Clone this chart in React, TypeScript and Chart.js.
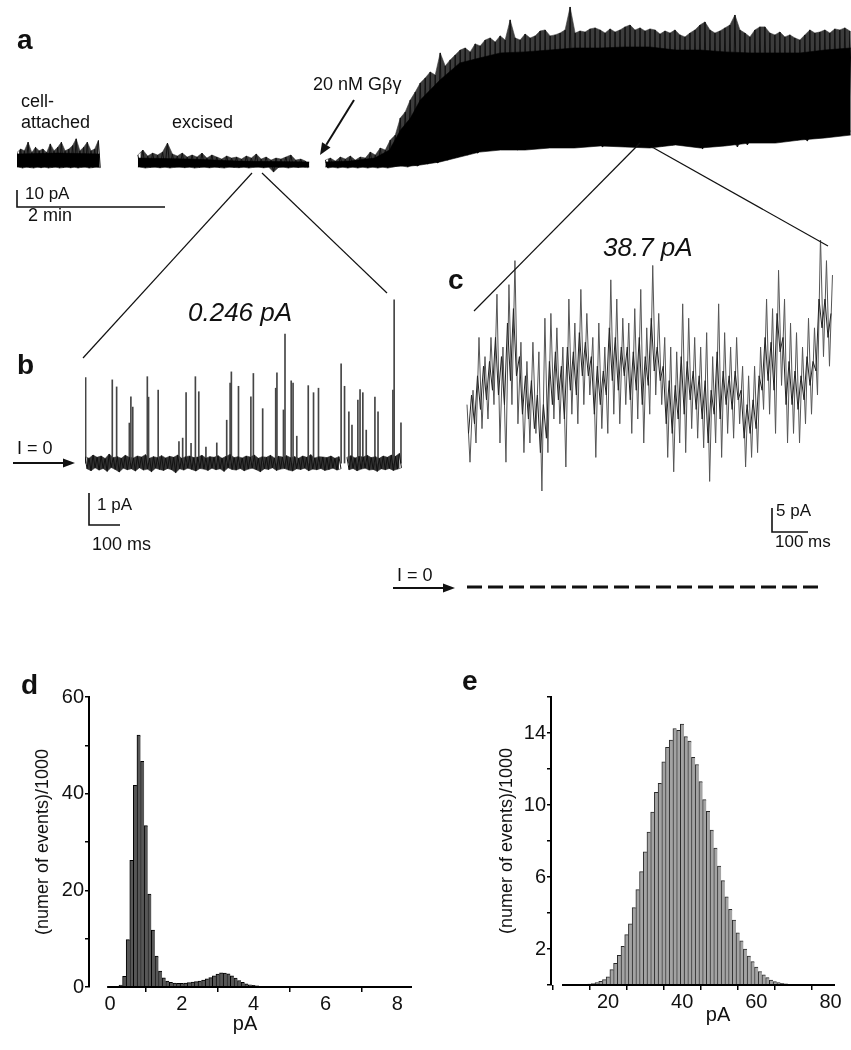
import React, { useEffect, useRef } from "react";
import { Chart, registerables } from "chart.js";

Chart.register(...registerables);

const FONT = '"Liberation Sans", Arial, Helvetica, sans-serif';

// ================= DATA =================
// Panel a: long recording. time in s, current in pA.
const aCellT0 = 0;
const aCellStep = 3;
const aCellHi = [8, 10, 9, 14, 8, 11, 9, 10, 8, 13, 9, 11, 14, 9, 10, 12, 16, 9, 11, 14, 9, 10, 15];
const aCellLo = [-0.6, -1.2, -0.6, -0.9, -1.2, -0.6, -1.0, -0.6, -1.2, -0.8, -0.6, -1.2, -0.9, -0.6, -1.1, -0.6, -1.2, -0.7, -0.6, -1.2, -0.9, -0.6, -1.0];
const aCellCoreT = [0, 33, 67];
const aCellCoreTop = [7.1, 7.6, 7.1];
const aCellCoreBot = [-0.6, -0.6, -0.6];

const aExcT0 = 98;
const aExcStep = 4;
const aExcHi = [6.5, 9.4, 5.9, 7.6, 6.5, 8.2, 13.5, 7.1, 5.9, 7.6, 5.3, 6.5, 5.3, 7.6, 4.7, 6.5, 5.3, 4.1, 5.9, 4.7, 5.3, 4.1, 5.9, 4.7, 7.1, 4.1, 5.3, 3.5, 4.7, 4.1, 5.3, 6.5, 3.5, 4.1, 2.9];
const aExcLo = [-0.6, -1.2, -0.8, -0.6, -1.1, -0.6, -1.2, -0.7, -0.6, -1.0, -0.6, -1.2, -0.8, -0.6, -1.1, -0.6, -0.9, -1.2, -0.6, -0.8, -1.0, -0.6, -1.2, -0.7, -0.6, -1.1, -0.6, -3.5, -0.8, -0.6, -1.2, -0.6, -0.9, -0.6, -1.0];
const aExcCoreT = [98, 140, 180, 237];
const aExcCoreTop = [4.7, 4.1, 2.9, 2.4];
const aExcCoreBot = [-0.6, -0.6, -0.6, -0.6];

const aBigT0 = 250;
const aBigStep = 4.05;
const aBigHi = [
  3.5, 4.7, 2.9, 5.3, 4.1, 5.9, 3.5, 5.3, 4.7, 8.2,
  6.5, 10.6, 9.4, 15.3, 18.2, 28.2, 31.8, 38.8, 43.5, 48.8,
  51.8, 55.3, 53.5, 66.5, 58.8, 62.4, 65.3, 68.2, 69.4, 67.1,
  71.8, 70.6, 74.1, 75.3, 72.9, 76.5, 74.1, 85.9, 75.3, 74.1,
  77.6, 75.3, 76.5, 79.4, 80, 76.5, 77.1, 78.2, 80, 93.5,
  78.2, 79.4, 78.8, 80.6, 81.2, 80, 78.2, 80.6, 78.8, 80,
  81.8, 82.9, 80, 81.2, 79.4, 80.6, 80, 77.6, 79.4, 78.2,
  80, 77.1, 75.9, 78.2, 80, 82.9, 84.7, 80, 78.2, 79.4,
  81.2, 82.9, 88.8, 80, 78.2, 75.9, 80, 81.8, 81.8, 78.2,
  77.1, 78.8, 75.9, 77.1, 75.3, 74.1, 77.1, 80, 78.2, 78.8,
  80, 78.2, 80.6, 80, 81.2, 79.4,
];
const aBigLo = [
  -1.2, -0.6, -1.2, -0.6, -1.2, -0.6, -1.2, -0.6, -1.2, -0.6,
  -1.2, -0.6, -1.2, -0.6, 0, 0, -0.6, 0.6, 0, 2.4,
  1.2, 3.5, 1.8, 4.7, 3.5, 6.5, 5.3, 8.2, 6.5, 9.4,
  7.6, 10.6, 9.4, 11.8, 10, 12.4, 10.6, 11.8, 9.4, 12.4,
  11.2, 13.5, 10.6, 12.9, 11.8, 14.7, 12.4, 13.5, 11.2, 12.9,
  14.1, 11.8, 15.3, 12.4, 14.1, 11.2, 14.7, 12.9, 16.5, 13.5,
  14.7, 12.4, 15.3, 11.8, 14.1, 10.6, 13.5, 11.8, 14.7, 12.4,
  15.3, 12.9, 14.7, 11.8, 14.1, 10, 13.5, 15.3, 11.8, 16.5,
  12.9, 14.7, 11.2, 15.9, 12.4, 17.1, 15.3, 19.4, 16.5, 18.2,
  14.7, 17.6, 15.9, 18.8, 15.3, 17.1, 14.7, 18.8, 17.1, 19.4,
  17.6, 20.6, 18.2, 21.2, 19.4, 21.2,
];
const aBigCoreT = [250, 270, 290, 302, 311, 319, 327, 343, 359, 375, 392, 412, 432, 452, 473, 493, 513, 534, 554, 574, 594, 615, 635, 655, 676];
const aBigCoreTop = [2.4, 2.9, 4.7, 9.4, 21.2, 28.2, 38.8, 50.6, 60.6, 63.5, 66.5, 67.1, 68.2, 69.4, 69.4, 70, 70, 68.2, 68.2, 67.1, 66.5, 66.5, 66.5, 68.2, 69.4];
const aBigCoreBot = [-0.6, -0.6, -0.6, -0.6, 0, 0, 0.6, 2.4, 5.3, 8.2, 9.4, 9.4, 10.6, 10.6, 11.8, 11.2, 10.6, 12.4, 10.6, 11.8, 13.5, 13.5, 15.3, 16.5, 18.2];

// Panel b: excised patch, 0.246 pA. time in ms, current in pA.
const bStep = 13;
const bHi = [
  0.2, 0.15, 0.25, 0.18, 0.22, 0.14, 0.28, 0.17, 0.2, 0.15,
  0.24, 0.18, 0.16, 0.22, 0.19, 0.26, 0.15, 0.2, 0.17, 0.23,
  0.16, 0.21, 0.18, 0.25, 0.15, 0.2, 0.22, 0.17, 0.19, 0.24,
  0.16, 0.2, 0.18, 0.23, 0.15, 0.21, 0.27, 0.17, 0.2, 0.16,
  0.22, 0.19, 0.25, 0.15, 0.2, 0.18, 0.24, 0.16, 0.21, 0.19,
  0.23, 0.17, 0.2, 0.15, 0.22, 0.18, 0.26, 0.16, 0.2, 0.19,
  0.17, 0.22, 0.15, 0.2, null, 0.18, 0.23, 0.16, 0.21, 0.19,
  0.24, 0.17, 0.2, 0.15, 0.22, 0.18, 0.25, 0.21, 0.3,
];
const bLo = [
  -0.18, -0.24, -0.15, -0.22, -0.17, -0.26, -0.14, -0.2, -0.28, -0.16,
  -0.21, -0.18, -0.25, -0.15, -0.22, -0.19, -0.27, -0.16, -0.2, -0.23,
  -0.17, -0.21, -0.3, -0.18, -0.22, -0.16, -0.2, -0.25, -0.17, -0.19,
  -0.23, -0.16, -0.21, -0.18, -0.26, -0.15, -0.2, -0.22, -0.17, -0.24,
  -0.19, -0.16, -0.21, -0.27, -0.18, -0.2, -0.15, -0.23, -0.19, -0.17,
  -0.22, -0.25, -0.18, -0.2, -0.16, -0.24, -0.19, -0.21, -0.17, -0.23,
  -0.2, -0.16, -0.22, -0.18, null, -0.21, -0.17, -0.24, -0.19, -0.16,
  -0.22, -0.2, -0.26, -0.18, -0.21, -0.17, -0.23, -0.19, -0.15,
];
const bSpikeT = [2, 88, 102, 143, 148, 154, 201, 205, 236, 303, 315, 326, 342, 356, 367, 390, 425, 457, 468, 472, 495, 535, 543, 573, 615, 619, 640, 645, 665, 671, 683, 720, 737, 753, 826, 837, 851, 861, 880, 887, 896, 907, 935, 945, 993, 997, 1019];
const bSpikeH = [2.67, 2.6, 2.38, 1.25, 2.07, 1.75, 2.7, 2.06, 2.28, 0.67, 0.78, 2.2, 0.62, 2.7, 2.23, 0.5, 0.63, 1.34, 2.5, 2.85, 2.4, 2.07, 2.8, 1.7, 2.34, 2.82, 1.66, 4.03, 2.57, 2.5, 0.84, 2.42, 2.2, 2.34, 3.1, 2.4, 1.6, 1.19, 1.97, 2.3, 2.2, 1.03, 2.06, 1.6, 2.28, 5.1, 1.26];

// Panel c: after Gβγ, 38.7 pA. time in ms, current in pA.
const cStep = 8.33;
const cVals = [
  38, 26, 41, 30, 52, 33, 48, 35, 52, 38,
  61, 30, 50, 26, 63, 38, 68, 34, 51, 28,
  47, 30, 51, 32, 49, 20, 56, 28, 57, 35,
  54, 34, 50, 25, 60, 36, 55, 34, 62, 38,
  57, 40, 52, 27, 55, 33, 50, 32, 64, 36,
  60, 34, 56, 38, 55, 32, 58, 35, 62, 30,
  54, 36, 67, 40, 57, 38, 52, 27, 50, 24,
  49, 30, 59, 28, 56, 33, 52, 31, 50, 29,
  53, 22, 48, 30, 59, 27, 53, 32, 50, 31,
  52, 34, 46, 25, 44, 27, 46, 28, 50, 37,
  60, 36, 58, 32, 66, 42, 60, 30, 55, 32,
  53, 30, 50, 34, 56, 36, 54, 40, 73, 48,
  68, 46, 65,
];
// denser inner excursions of the same trace, read half a step later
const cInner = [
  32, 40, 34, 44, 37, 46, 39, 47, 41, 52,
  40, 48, 38, 55, 43, 58, 44, 48, 36, 44,
  35, 43, 33, 40, 28, 38, 31, 47, 38, 49,
  39, 46, 35, 50, 41, 49, 40, 53, 44, 51,
  44, 48, 36, 46, 38, 45, 40, 54, 43, 52,
  41, 50, 44, 50, 39, 49, 41, 52, 38, 48,
  42, 56, 45, 50, 43, 46, 34, 43, 32, 42,
  35, 48, 36, 47, 39, 45, 37, 44, 35, 43,
  30, 41, 36, 49, 35, 45, 38, 44, 37, 45,
  39, 41, 31, 38, 32, 39, 33, 44, 41, 52,
  43, 51, 41, 57, 49, 52, 38, 47, 38, 45,
  37, 44, 39, 48, 42, 47, 45, 60, 54, 60,
  52, 57,
];
const cZeroT = [0, 976];

// Panel d histogram (pA bins, events/1000)
const dBins = [0.3, 0.4, 0.5, 0.6, 0.7, 0.8, 0.9, 1.0, 1.1, 1.2, 1.3, 1.4, 1.5, 1.6, 1.7, 1.8, 1.9, 2.0, 2.1, 2.2, 2.3, 2.4, 2.5, 2.6, 2.7, 2.8, 2.9, 3.0, 3.1, 3.2, 3.3, 3.4, 3.5, 3.6, 3.7, 3.8, 3.9, 4.0, 4.1, 4.2, 4.3, 4.4, 4.5, 4.6, 4.7, 4.8, 4.9, 5.0, 5.1, 5.2, 5.3, 5.4, 5.5, 5.6, 5.7, 5.8, 5.9, 6.0];
const dCounts = [0.4, 2.2, 9.8, 26.2, 41.7, 52.1, 46.7, 33.4, 19.2, 11.8, 6.4, 3.3, 1.9, 1.2, 0.95, 0.8, 0.75, 0.75, 0.8, 0.9, 1.0, 1.1, 1.25, 1.45, 1.7, 1.95, 2.3, 2.65, 2.95, 2.9, 2.7, 2.3, 1.85, 1.35, 0.95, 0.65, 0.45, 0.32, 0.22, 0.16, 0.12, 0.1, 0.1, 0.08, 0.08, 0.07, 0.07, 0.08, 0.08, 0.09, 0.08, 0.08, 0.08, 0.07, 0.07, 0.06, 0.06, 0.05];
const dXTicks = [0, 2, 4, 6, 8];

// Panel e histogram
const eBins = [15, 16, 17, 18, 19, 20, 21, 22, 23, 24, 25, 26, 27, 28, 29, 30, 31, 32, 33, 34, 35, 36, 37, 38, 39, 40, 41, 42, 43, 44, 45, 46, 47, 48, 49, 50, 51, 52, 53, 54, 55, 56, 57, 58, 59, 60, 61, 62, 63, 64, 65, 66, 67, 68, 69, 70];
const eCounts = [0.05, 0.08, 0.13, 0.2, 0.3, 0.45, 0.85, 1.2, 1.65, 2.15, 2.8, 3.4, 4.3, 5.3, 6.3, 7.4, 8.5, 9.6, 10.7, 11.2, 12.4, 13.2, 13.6, 14.25, 14.15, 14.5, 13.8, 13.55, 12.65, 12.25, 11.3, 10.3, 9.65, 8.6, 7.6, 6.6, 5.8, 4.9, 4.2, 3.6, 2.9, 2.45, 2.0, 1.6, 1.3, 1.0, 0.75, 0.56, 0.41, 0.28, 0.19, 0.13, 0.09, 0.06, 0.04, 0.02];
const eXTicks = [10, 20, 30, 40, 50, 60, 70, 80];

// ================= HELPERS =================
function zigzag(t0: number, step: number, hi: (number | null)[], lo: (number | null)[]) {
  const pts: any[] = [];
  hi.forEach((h, i) => {
    const t = t0 + i * step;
    pts.push({ x: t, y: h });
    pts.push({ x: t + step / 2, y: lo[i] });
  });
  return pts;
}
function binSeries(t0: number, step: number, vals: (number | null)[], shift = 0) {
  return vals.map((v, i) => ({ x: t0 + i * step + shift, y: v }));
}
function series(ts: number[], vals: number[]) {
  return ts.map((t, i) => ({ x: t, y: vals[i] }));
}
function lineDs(data: any[], color: string, width: number, extra: any = {}) {
  return { type: "line", data, borderColor: color, borderWidth: width, pointRadius: 0, tension: 0, fill: false, spanGaps: false, ...extra };
}
function bandDs(top: any[], bottom: any[], color: string) {
  return [
    lineDs(top, color, 0.6),
    lineDs(bottom, color, 0.6, { fill: "-1", backgroundColor: color }),
  ];
}
function traceOptions(xmin: number, xmax: number, ymin: number, ymax: number) {
  return {
    animation: false,
    responsive: false,
    devicePixelRatio: 1,
    events: [],
    layout: { padding: 0, autoPadding: false },
    plugins: { legend: { display: false }, tooltip: { enabled: false } },
    scales: {
      x: { type: "linear", display: false, min: xmin, max: xmax, offset: false },
      y: { type: "linear", display: false, min: ymin, max: ymax },
    },
  };
}
function axisLinePlugin(from: number, to: number) {
  return {
    id: "xAxisLine",
    afterDraw(chart: any) {
      const { ctx, chartArea, scales } = chart;
      const x = scales.x;
      ctx.save();
      ctx.strokeStyle = "#000";
      ctx.lineWidth = 2;
      ctx.beginPath();
      ctx.moveTo(x.getPixelForValue(from), chartArea.bottom);
      ctx.lineTo(x.getPixelForValue(to), chartArea.bottom);
      ctx.stroke();
      ctx.restore();
    },
  };
}

function histConfig(p: any) {
  return {
    type: "bar",
    data: {
      datasets: [
        {
          data: p.bins.map((b: number, i: number) => ({ x: b, y: p.counts[i] })),
          backgroundColor: p.fill,
          borderColor: p.edge,
          borderWidth: { left: 1, top: 1, right: 0, bottom: 0 },
          barPercentage: 1,
          categoryPercentage: 1,
          grouped: false,
        },
      ],
    },
    options: {
      animation: false,
      responsive: false,
      devicePixelRatio: 1,
      events: [],
      layout: { padding: { left: 0, right: p.padRight, top: p.padTop, bottom: 0 }, autoPadding: false },
      plugins: { legend: { display: false }, tooltip: { enabled: false } },
      scales: {
        x: {
          type: "linear",
          min: p.xmin,
          max: p.xmax,
          offset: false,
          afterBuildTicks: (s: any) => {
            s.ticks = p.xTicks.map((v: number) => ({ value: v }));
          },
          afterFit: (s: any) => {
            s.height = p.xHeight;
          },
          grid: { drawOnChartArea: false, drawTicks: true, tickLength: 5, color: "#000", lineWidth: 1.5 },
          border: { display: false },
          ticks: {
            autoSkip: false,
            maxRotation: 0,
            padding: 0,
            color: "#111",
            font: { size: 20, family: FONT },
            callback: p.xLabel,
          },
        },
        y: {
          type: "linear",
          min: p.ymin,
          max: p.ymax,
          afterFit: (s: any) => {
            s.width = p.yWidth;
          },
          grid: { drawOnChartArea: false, drawTicks: true, tickLength: 4, color: "#000", lineWidth: 1.5 },
          border: { display: true, color: "#000", width: 2 },
          ticks: {
            stepSize: p.yStep,
            padding: 1,
            color: "#111",
            font: { size: 20, family: FONT },
            callback: p.yLabel,
          },
          title: {
            display: true,
            text: "(numer of events)/1000",
            color: "#111",
            font: { size: 18, family: FONT },
            padding: { top: p.titlePad, bottom: 0 },
          },
        },
      },
    },
    plugins: [axisLinePlugin(p.axisFrom, p.axisTo)],
  };
}

// ================= CHART BUILDERS =================
function makeA() {
  // array order = top-most first (Chart.js draws the last dataset first)
  return {
    type: "line",
    data: {
      datasets: [
        ...bandDs(series(aCellCoreT, aCellCoreTop), series(aCellCoreT, aCellCoreBot), "#000"),
        ...bandDs(series(aExcCoreT, aExcCoreTop), series(aExcCoreT, aExcCoreBot), "#000"),
        ...bandDs(series(aBigCoreT, aBigCoreTop), series(aBigCoreT, aBigCoreBot), "#000"),
        lineDs(zigzag(aCellT0, aCellStep, aCellHi, aCellLo), "#111", 1),
        lineDs(zigzag(aExcT0, aExcStep, aExcHi, aExcLo), "#111", 1),
        lineDs(zigzag(aBigT0, aBigStep, aBigHi, aBigLo), "#111", 1),
        ...bandDs(binSeries(aCellT0, aCellStep, aCellHi), binSeries(aCellT0, aCellStep, aCellLo, aCellStep / 2), "#3c3c3c"),
        ...bandDs(binSeries(aExcT0, aExcStep, aExcHi), binSeries(aExcT0, aExcStep, aExcLo, aExcStep / 2), "#3c3c3c"),
        ...bandDs(binSeries(aBigT0, aBigStep, aBigHi), binSeries(aBigT0, aBigStep, aBigLo, aBigStep / 2), "#3c3c3c"),
      ],
    },
    options: traceOptions(0, 676.2, -8.2, 97.6),
  };
}

function makeB() {
  return {
    type: "line",
    data: {
      datasets: [
        lineDs(zigzag(0, bStep, bHi, bLo), "#111", 1),
        {
          type: "bar",
          data: bSpikeT.map((t, i) => ({ x: t, y: [0, bSpikeH[i]] })),
          backgroundColor: "#454545",
          borderWidth: 0,
          barThickness: 1,
          grouped: false,
        },
        ...bandDs(binSeries(0, bStep, bHi), binSeries(0, bStep, bLo, bStep / 2), "#333"),
      ],
    },
    options: traceOptions(0, 1032, -0.53, 5.41),
  };
}

function makeC() {
  return {
    type: "line",
    data: {
      datasets: [
        lineDs(cZeroT.map((t) => ({ x: t, y: 0 })), "#111", 3, { borderDash: [15, 6] }),
        lineDs(cInner.map((v, i) => ({ x: i * cStep + cStep / 2, y: v })), "#222", 1),
        lineDs(cVals.map((v, i) => ({ x: i * cStep, y: v })), "#555", 1),
      ],
    },
    options: traceOptions(-19.5, 1065, -2.71, 72.3),
  };
}

function makeD() {
  return histConfig({
    bins: dBins,
    counts: dCounts,
    fill: "#575757",
    edge: "#000",
    padRight: 18,
    padTop: 37,
    xmin: -0.585,
    xmax: 8.41,
    xTicks: dXTicks,
    xHeight: 63,
    xLabel: (v: number) => String(v),
    ymin: 0,
    ymax: 60,
    yStep: 10,
    yWidth: 89,
    yLabel: (v: number) => (v % 20 === 0 ? String(v) : ""),
    titlePad: 32.7,
    axisFrom: -0.08,
    axisTo: 8.41,
  });
}

function makeE() {
  return histConfig({
    bins: eBins,
    counts: eCounts,
    fill: "#a3a3a3",
    edge: "#2a2a2a",
    padRight: 16,
    padTop: 37,
    xmin: 4.63,
    xmax: 81.2,
    xTicks: eXTicks,
    xHeight: 65,
    xLabel: (v: number) => (v % 20 === 0 ? String(v) : ""),
    ymin: 0,
    ymax: 16,
    yStep: 2,
    yWidth: 121,
    yLabel: (v: number) => (v % 4 === 2 ? String(v) : ""),
    titlePad: 66,
    axisFrom: 7.6,
    axisTo: 81.2,
  });
}

// ================= COMPONENTS =================
function ChartCanvas(props: { left: number; top: number; width: number; height: number; make: () => any }) {
  const ref = useRef<HTMLCanvasElement | null>(null);
  useEffect(() => {
    const chart = new Chart(ref.current as HTMLCanvasElement, props.make() as any);
    return () => chart.destroy();
  }, []);
  return (
    <canvas
      ref={ref}
      width={props.width}
      height={props.height}
      style={{ position: "absolute", left: props.left, top: props.top, width: props.width, height: props.height }}
    />
  );
}

function Label(props: { x: number; y: number; text: string; size?: number; bold?: boolean; italic?: boolean; center?: boolean }) {
  return (
    <div
      style={{
        position: "absolute",
        left: props.x,
        top: props.y,
        fontFamily: FONT,
        fontSize: props.size || 18,
        fontWeight: props.bold ? 700 : 400,
        fontStyle: props.italic ? "italic" : "normal",
        lineHeight: 1,
        whiteSpace: "pre",
        color: "#111",
        transform: props.center ? "translateX(-50%)" : undefined,
      }}
    >
      {props.text}
    </div>
  );
}

export default function App() {
  return (
    <div style={{ position: "absolute", left: 0, top: 0, width: 851, height: 1050, background: "#fff", overflow: "hidden" }}>
      <ChartCanvas left={17} top={0} width={834} height={180} make={makeA} />
      <ChartCanvas left={85} top={290} width={320} height={190} make={makeB} />
      <ChartCanvas left={460} top={240} width={390} height={360} make={makeC} />
      <ChartCanvas left={0} top={660} width={430} height={390} make={makeD} />
      <ChartCanvas left={430} top={660} width={421} height={390} make={makeE} />

      <svg width={851} height={1050} style={{ position: "absolute", left: 0, top: 0, pointerEvents: "none" }}>
        <g stroke="#111" strokeWidth={1.2} fill="none">
          <line x1={252} y1={173} x2={83} y2={358} />
          <line x1={262} y1={173} x2={387} y2={293} />
          <line x1={640} y1={143} x2={474} y2={311} />
          <line x1={652} y1={147} x2={828} y2={246} />
        </g>
        <g stroke="#111" strokeWidth={1.6} fill="none">
          <path d="M17 190 V207 H165" />
          <path d="M89 493 V525 H120" />
          <path d="M772 508 V532 H808" />
        </g>
        <g stroke="#111" strokeWidth={2} fill="none">
          <line x1={354} y1={100} x2={326.3} y2={144.8} />
          <line x1={13} y1={463} x2={64} y2={463} />
          <line x1={393} y1={588} x2={444} y2={588} />
        </g>
        <g fill="#111" stroke="none">
          <polygon points="320,155 330.5,147.4 322.05,142.2" />
          <polygon points="75,463 63,458.5 63,467.5" />
          <polygon points="455,588 443,583.5 443,592.5" />
        </g>
      </svg>

      <Label x={17} y={26.3} text="a" size={28} bold />
      <Label x={21} y={91.8} text="cell-" />
      <Label x={21} y={112.8} text="attached" />
      <Label x={172} y={113} text="excised" />
      <Label x={313} y={75} text="20 nM Gβγ" />
      <Label x={25} y={184.6} text="10 pA" size={17} />
      <Label x={28} y={205.5} text="2 min" />

      <Label x={188} y={298.7} text="0.246 pA" size={26} italic />
      <Label x={17} y={350.6} text="b" size={28} bold />
      <Label x={17} y={438.8} text="I = 0" />
      <Label x={97} y={496.3} text="1 pA" size={17} />
      <Label x={92} y={534.8} text="100 ms" />

      <Label x={448} y={266.3} text="c" size={28} bold />
      <Label x={603} y={234} text="38.7 pA" size={26} italic />
      <Label x={776} y={502.3} text="5 pA" size={17} />
      <Label x={775} y={533} text="100 ms" size={17} />
      <Label x={397} y={565.5} text="I = 0" />

      <Label x={21} y={671.3} text="d" size={28} bold />
      <Label x={462} y={667} text="e" size={28} bold />
      <Label x={245} y={1013.4} text="pA" size={20} center />
      <Label x={718} y={1004.4} text="pA" size={20} center />
    </div>
  );
}
